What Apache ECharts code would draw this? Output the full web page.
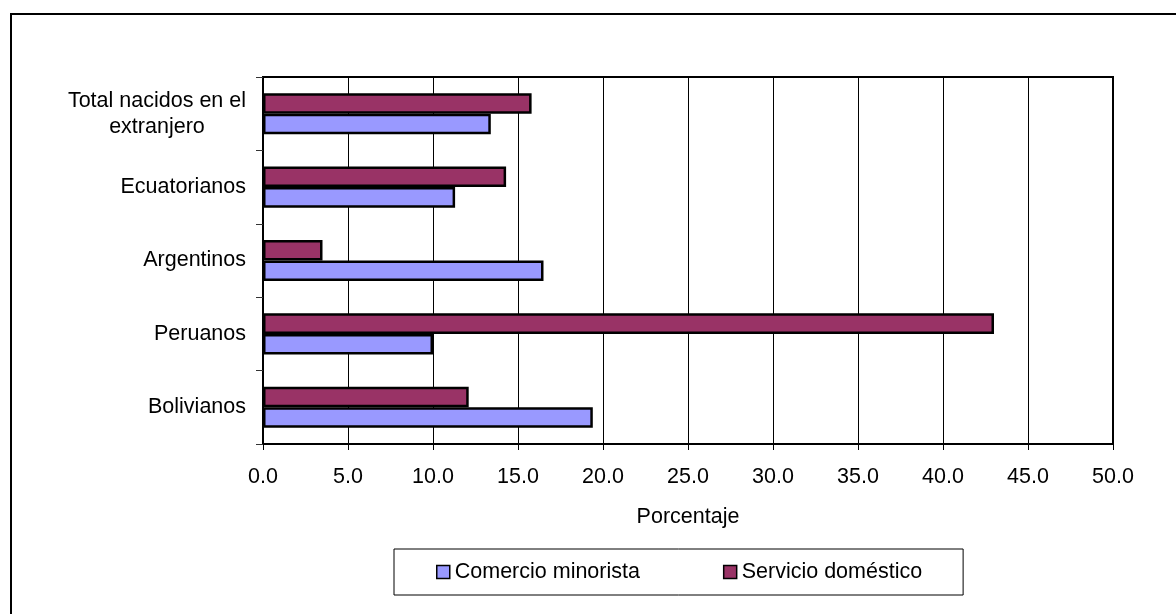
<!DOCTYPE html>
<html>
<head>
<meta charset="utf-8">
<script src="https://cdn.jsdelivr.net/npm/echarts@6/dist/echarts.min.js"></script>
<style>
  html, body { margin: 0; padding: 0; background: #fff; }
  #chart { width: 1176px; height: 614px; }
</style>
</head>
<body>
<div id="chart"></div>
<script>
// Origin groups, listed from bottom to top of the chart
const categories = ['Bolivianos', 'Peruanos', 'Argentinos', 'Ecuatorianos', 'Total nacidos en el\nextranjero'];
// Share of workers in each activity (%)
const comercioMinorista = [19.4, 10.0, 16.5, 11.3, 13.4];
const servicioDomestico = [12.1, 43.0, 3.5, 14.3, 15.8];
const xTicks = { min: 0, max: 50, step: 5 };

const FONT = "'Liberation Sans', Arial, sans-serif";
const FS = 21.5;
const chart = echarts.init(document.getElementById('chart'));

chart.setOption({
  backgroundColor: '#fff',
  animation: false,
  textStyle: { fontFamily: FONT, color: '#000' },
  graphic: [{
    type: 'rect',
    shape: { x: 11, y: 14, width: 1200, height: 700 },
    style: { fill: 'none', stroke: '#000', lineWidth: 2 },
    silent: true
  }],
  grid: {
    left: 263, right: 63, top: 77, bottom: 170,
    show: true, borderColor: '#000', borderWidth: 2, backgroundColor: 'transparent'
  },
  legend: {
    data: [
      { name: 'Comercio minorista', itemStyle: { borderColor: '#000', borderWidth: 1.5 } },
      { name: 'Servicio doméstico', itemStyle: { borderColor: '#000', borderWidth: 1.5 } }
    ],
    left: 394, top: 549,
    orient: 'horizontal',
    icon: 'rect',
    itemWidth: 13, itemHeight: 13, itemGap: 83,
    padding: [12, 41, 12, 42],
    borderColor: '#000', borderWidth: 1,
    textStyle: { fontFamily: FONT, fontSize: FS, color: '#000' }
  },
  xAxis: {
    type: 'value',
    min: xTicks.min, max: xTicks.max, interval: xTicks.step,
    name: 'Porcentaje',
    nameLocation: 'middle',
    nameGap: 62,
    nameTextStyle: { fontFamily: FONT, fontSize: FS, color: '#000' },
    axisLine: { show: true, lineStyle: { color: '#000', width: 2 } },
    axisTick: { show: true, length: 6, lineStyle: { color: '#000', width: 1 } },
    axisLabel: {
      margin: 22, fontFamily: FONT, fontSize: FS, color: '#000',
      formatter: v => v.toFixed(1)
    },
    splitLine: { show: true, lineStyle: { color: '#000', width: 1 } }
  },
  yAxis: {
    type: 'category',
    data: categories,
    axisLine: { show: true, lineStyle: { color: '#000', width: 2 } },
    axisTick: { show: true, length: 7, lineStyle: { color: '#333', width: 1 } },
    axisLabel: {
      interval: 0, margin: 17, fontFamily: FONT, fontSize: FS, color: '#000',
      formatter: v => v.split('\n').map(l => '{c|' + l + '}').join('\n'),
      rich: { c: { align: 'center', fontFamily: FONT, fontSize: FS, lineHeight: 26, color: '#000' } }
    },
    splitLine: { show: false }
  },
  // Servicio doméstico is listed first so it sits above Comercio minorista in each group
  series: [
    {
      name: 'Servicio doméstico',
      type: 'bar',
      data: servicioDomestico,
      barGap: '0%',
      barCategoryGap: '44%',
      itemStyle: { color: '#993366', borderColor: '#000', borderWidth: 2.5 }
    },
    {
      name: 'Comercio minorista',
      type: 'bar',
      data: comercioMinorista,
      barGap: '0%',
      barCategoryGap: '44%',
      itemStyle: { color: '#9999FF', borderColor: '#000', borderWidth: 2.5 }
    }
  ]
});
</script>
</body>
</html>
